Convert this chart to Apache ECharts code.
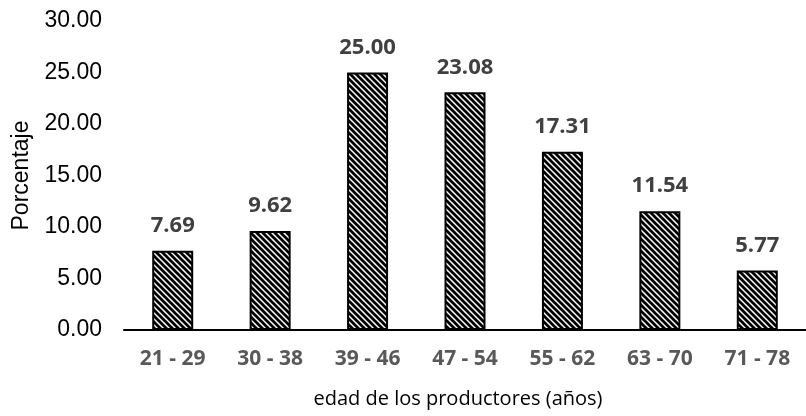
<!DOCTYPE html>
<html>
<head>
<meta charset="utf-8">
<script src="https://cdn.jsdelivr.net/npm/echarts@6/dist/echarts.min.js"></script>
<style>
html,body{margin:0;padding:0;background:#fff;}
#chart{width:806px;height:416px;}
</style>
</head>
<body>
<div id="chart"></div>
<script>
var categories = ['21 - 29', '30 - 38', '39 - 46', '47 - 54', '55 - 62', '63 - 70', '71 - 78'];
var values = [7.69, 9.62, 25.00, 23.08, 17.31, 11.54, 5.77];
var yTicks = [0, 5, 10, 15, 20, 25, 30];
var xAxisTitle = 'edad de los productores (años)';
var yAxisTitle = 'Porcentaje';

function makePattern() {
  var s = 6;
  var c = document.createElement('canvas');
  c.width = s; c.height = s;
  var ctx = c.getContext('2d');
  ctx.fillStyle = '#fff';
  ctx.fillRect(0, 0, s, s);
  ctx.strokeStyle = '#000';
  ctx.lineWidth = 2.7;
  [-s, 0, s].forEach(function (k) {
    ctx.beginPath();
    ctx.moveTo(k - 1, -1);
    ctx.lineTo(k + s + 1, s + 1);
    ctx.stroke();
  });
  return c;
}

var chart = echarts.init(document.getElementById('chart'));
chart.setOption({
  animation: false,
  backgroundColor: '#fff',
  title: {
    text: xAxisTitle,
    left: 453,
    top: 384,
    textAlign: 'center',
    textStyle: { fontFamily: 'Open Sans', fontSize: 20, fontWeight: 'normal', color: '#000' }
  },
  grid: { left: 124, right: -10, top: 21, bottom: 86, containLabel: false },
  xAxis: {
    type: 'category',
    data: categories,
    axisLine: { show: true, lineStyle: { color: '#000', width: 2 } },
    axisTick: { show: false },
    axisLabel: {
      margin: 19,
      fontFamily: 'Open Sans',
      fontWeight: 'bold',
      fontSize: 21,
      color: '#595959'
    }
  },
  yAxis: {
    type: 'value',
    min: yTicks[0],
    max: yTicks[yTicks.length - 1],
    interval: 5,
    name: yAxisTitle,
    nameLocation: 'middle',
    nameGap: 90,
    nameTextStyle: { fontFamily: 'Liberation Sans', fontSize: 23, color: '#000' },
    axisLine: { show: false },
    axisTick: { show: false },
    splitLine: { show: false },
    axisLabel: {
      margin: 22,
      fontFamily: 'Liberation Sans',
      fontSize: 23,
      color: '#000',
      formatter: function (v) { return v.toFixed(2); }
    }
  },
  series: [{
    type: 'bar',
    data: values,
    barWidth: 41,
    itemStyle: {
      color: { image: makePattern(), repeat: 'repeat' },
      borderColor: '#000',
      borderWidth: 2
    },
    label: {
      show: true,
      position: 'top',
      distance: 14,
      fontFamily: 'Open Sans',
      fontWeight: 'bold',
      fontSize: 22,
      color: '#404040',
      formatter: function (p) { return p.value.toFixed(2); }
    }
  }]
});
</script>
</body>
</html>
